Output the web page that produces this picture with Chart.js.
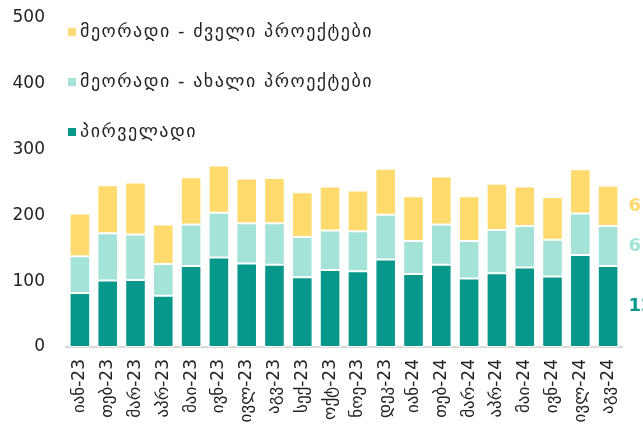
<!DOCTYPE html>
<html>
<head>
<meta charset="utf-8">
<script src="https://cdn.jsdelivr.net/npm/chart.js@4.4.1/dist/chart.umd.min.js"></script>
<style>
  html, body { margin: 0; padding: 0; background: #fff; overflow: hidden; }
  #wrap { width: 643px; height: 426px; position: relative; }
</style>
</head>
<body>
<div id="wrap"><canvas id="chart"></canvas></div>
<script>
// თვეები + სამი სერია (დაწყობილი სვეტები)
var months = ['იან-23','თებ-23','მარ-23','აპრ-23','მაი-23','ივნ-23','ივლ-23','აგვ-23','სექ-23','ოქტ-23',
              'ნოე-23','დეკ-23','იან-24','თებ-24','მარ-24','აპრ-24','მაი-24','ივნ-24','ივლ-24','აგვ-24'];
var primary   = [82, 101, 102, 78, 123, 136, 127, 125, 106, 117, 115, 133, 111, 125, 104, 112, 121, 107, 140, 123];
var secNew    = [56,  72,  69, 48,  63,  68,  61,  63,  61,  60,  61,  68,  50,  61,  57,  66,  63,  56,  63,  61];
var secOld    = [65,  73,  79, 60,  72,  72,  68,  69,  68,  67,  62,  70,  68,  73,  68,  70,  60,  65,  67,  61];
var seriesNames = ['პირველადი', 'მეორადი - ახალი პროექტები', 'მეორადი - ძველი პროექტები'];
var yMin = 0, yMax = 500, yStep = 100;

var COLORS = ['#07988b', '#a4e3d8', '#ffda6c'];
var TEXT   = '#222222';
var FONT   = "'DejaVu Sans', sans-serif";

// ლეგენდა — ვერტიკალურად, გრაფიკის შიგნით, ზედა მარცხნივ
var legendPlugin = {
  id: 'innerLegend',
  afterDraw: function(chart) {
    var ctx = chart.ctx;
    ctx.save();
    ctx.font = '18px ' + FONT;
    ctx.letterSpacing = '1.5px';
    ctx.textBaseline = 'middle';
    ctx.textAlign = 'left';
    var order = [2, 1, 0];
    order.forEach(function(idx, row) {
      var y = 32 + row * 50;
      ctx.fillStyle = COLORS[idx];
      ctx.fillRect(68, y - 4, 8, 8);
      ctx.fillStyle = TEXT;
      ctx.fillText(seriesNames[idx], 80, y);
    });
    ctx.restore();
  }
};

// ბოლო სვეტის მნიშვნელობები მარჯვნივ
var endLabelPlugin = {
  id: 'endLabels',
  afterDatasetsDraw: function(chart) {
    var ctx = chart.ctx;
    ctx.save();
    ctx.font = 'bold 18px ' + FONT;
    ctx.textBaseline = 'middle';
    ctx.textAlign = 'left';
    chart.data.datasets.forEach(function(ds, i) {
      var meta = chart.getDatasetMeta(i);
      var last = meta.data.length - 1;
      var p = meta.data[last].getProps(['x', 'y', 'base', 'width'], true);
      ctx.fillStyle = COLORS[i];
      ctx.fillText(String(ds.data[last]), p.x + p.width / 2 + 10, (p.y + p.base) / 2);
    });
    ctx.restore();
  }
};

function makeDataset(label, data, color) {
  return {
    label: label,
    data: data,
    backgroundColor: color,
    borderColor: '#ffffff',
    borderWidth: 1,
    borderSkipped: false,
    barPercentage: 0.74,
    categoryPercentage: 1
  };
}

new Chart(document.getElementById('chart').getContext('2d'), {
  type: 'bar',
  data: {
    labels: months,
    datasets: [
      makeDataset(seriesNames[0], primary, COLORS[0]),
      makeDataset(seriesNames[1], secNew,  COLORS[1]),
      makeDataset(seriesNames[2], secOld,  COLORS[2])
    ]
  },
  options: {
    responsive: true,
    maintainAspectRatio: false,
    animation: false,
    layout: { padding: { top: 18, right: 21, left: 0, bottom: 0 } },
    plugins: { legend: { display: false }, tooltip: { enabled: false } },
    scales: {
      x: {
        stacked: true,
        grid: { display: false, drawTicks: false },
        border: { display: true, color: '#d9d9d9', width: 2 },
        ticks: { color: TEXT, font: { family: FONT, size: 17 }, minRotation: 90, maxRotation: 90, autoSkip: false, padding: 12 },
        afterFit: function(s) { s.height = 79; }
      },
      y: {
        stacked: true,
        min: yMin, max: yMax,
        grid: { display: false, drawTicks: false },
        border: { display: false },
        ticks: { stepSize: yStep, color: TEXT, font: { family: FONT, size: 17 }, padding: 21 },
        afterFit: function(s) { s.width = 66; s.paddingTop = 0; s.paddingBottom = 0; }
      }
    }
  },
  plugins: [legendPlugin, endLabelPlugin]
});
</script>
</body>
</html>
